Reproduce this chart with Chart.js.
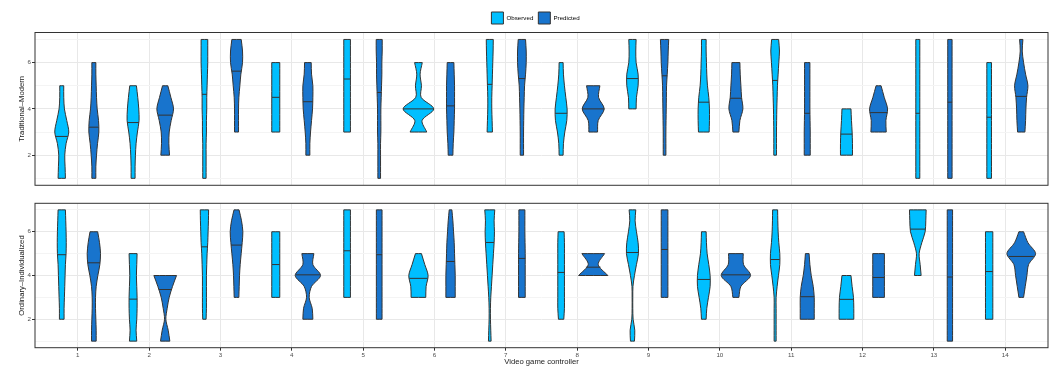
<!DOCTYPE html>
<html>
<head>
<meta charset="utf-8">
<script src="https://cdn.jsdelivr.net/npm/chart.js@4.4.1/dist/chart.umd.min.js"></script>
<style>
  body { margin: 0; background: #fff; }
  #wrap { position: relative; width: 1057px; height: 367px; }
  canvas { position: absolute; left: 0; }
  #topChart { top: 0; }
  #bottomChart { top: 192px; }
</style>
</head>
<body>
<div id="wrap">
  <canvas id="topChart" width="1057" height="190"></canvas>
  <canvas id="bottomChart" width="1057" height="175"></canvas>
</div>
<script>
// Video game controllers on the x axis, y levels where violin widths were read
const controllers = [1, 2, 3, 4, 5, 6, 7, 8, 9, 10, 11, 12, 13, 14];
const yLevels = [1, 1.5, 2, 2.5, 3, 3.5, 4, 4.5, 5, 5.5, 6, 6.5, 7];
const yTicks = [1, 2, 3, 4, 5, 6, 7];
const groups = ['Observed', 'Predicted'];

// Traditional–Modern: relative density at each y level (null = outside data range)
const tmObservedDensity = [
  [22, 20, 18, 26, 42, 30, 16, 12, 12, null, null, null, null],
  [12, 12, 14, 18, 26, 36, 34, 28, 20, null, null, null, null],
  [10, 10, 10, 10, 12, 12, 14, 14, 16, 18, 20, 20, 20],
  [null, null, null, null, 24, 24, 24, 24, 24, 24, 24, null, null],
  [null, null, null, null, 20, 20, 20, 20, 20, 20, 20, 20, 20],
  [null, null, null, null, 50, 22, 92, 16, 18, 10, 23, null, null],
  [null, null, null, null, 16, 14, 12, 12, 14, 16, 18, 20, 21],
  [null, null, 12, 14, 22, 34, 36, 28, 20, 14, 12, null, null],
  [null, null, null, null, null, null, 22, 24, 34, 34, 22, 20, 22],
  [null, null, null, null, 32, 34, 34, 30, 22, 18, 16, 14, 14],
  [null, null, 8, 8, 8, 9, 10, 12, 14, 18, 22, 26, 21],
  [null, null, 36, 36, 34, 30, 27, null, null, null, null, null, null],
  [12, 12, 12, 12, 12, 12, 12, 12, 12, 12, 12, 12, 12],
  [14, 14, 14, 14, 14, 14, 14, 14, 14, 14, 14, null, null]
];
const tmObservedMedian = [2.81, 3.41, 4.63, 4.5, 5.29, 4.0, 5.06, 3.81, 5.31, 4.29, 5.23, 2.91, 3.81, 3.64];

const tmPredictedDensity = [
  [12, 12, 16, 22, 30, 28, 20, 16, 14, 12, 12, null, null],
  [null, null, 26, 22, 24, 36, 50, 34, 16, null, null, null, null],
  [null, null, null, null, 12, 12, 12, 14, 20, 26, 36, 36, 28],
  [null, null, 12, 12, 16, 22, 28, 30, 30, 22, 20, null, null],
  [8, 8, 8, 8, 10, 10, 10, 12, 14, 16, 16, 18, 18],
  [null, null, 14, 16, 20, 22, 24, 24, 24, 22, 20, null, null],
  [null, null, 10, 10, 10, 11, 12, 14, 16, 22, 26, 26, 22],
  [null, null, null, null, 26, 30, 66, 32, 40, null, null, null, null],
  [null, null, 8, 8, 8, 9, 10, 11, 12, 16, 20, 22, 25],
  [null, null, null, null, 18, 24, 42, 34, 30, 26, 24, null, null],
  [null, null, 18, 18, 18, 17, 16, 16, 16, 16, 16, null, null],
  [null, null, null, null, 46, 44, 54, 34, 15, null, null, null, null],
  [13, 13, 13, 13, 13, 13, 13, 13, 13, 13, 13, 13, 13],
  [null, null, null, null, 22, 26, 28, 32, 40, 26, 14, 6, 10]
];
const tmPredictedMedian = [3.21, 3.73, 5.63, 4.31, 4.71, 4.13, 5.31, 4.0, 5.43, 4.46, 3.81, 3.84, 4.29, 4.54];

// Ordinary–Individualized
const oiObservedDensity = [
  [null, null, 14, 14, 16, 18, 20, 22, 26, 27, 26, 24, 22],
  [22, 18, 22, 24, 24, 22, 20, 22, 24, null, null, null, null],
  [null, null, 10, 12, 12, 12, 12, 14, 16, 20, 22, 24, 25],
  [null, null, null, null, 24, 24, 24, 24, 24, 24, 24, null, null],
  [null, null, null, null, 20, 20, 20, 20, 20, 20, 20, 20, 20],
  [null, null, null, null, 44, 46, 58, 38, 18, null, null, null, null],
  [8, 6, 4, 4, 6, 10, 14, 18, 22, 26, 28, 26, 30],
  [null, null, 16, 20, 20, 20, 20, 20, 20, 20, 18, null, null],
  [12, 14, 4, 2, 2, 3, 12, 24, 36, 34, 24, 16, 20],
  [null, null, 14, 18, 28, 38, 38, 30, 20, 16, 14, null, null],
  [6, 6, 6, 6, 6, 12, 20, 28, 28, 22, 18, 16, 15],
  [null, null, 44, 44, 42, 34, 27, null, null, null, null, null, null],
  [null, null, null, null, null, null, 20, 14, 8, 24, 44, 48, 50],
  [null, null, 22, 22, 22, 22, 22, 22, 22, 22, 22, null, null]
];
const oiObservedMedian = [4.95, 2.92, 5.31, 4.5, 5.13, 3.87, 5.51, 4.14, 5.05, 3.82, 4.73, 2.91, 6.12, 4.18];

const oiPredictedDensity = [
  [14, 14, 12, 10, 10, 14, 24, 36, 40, 34, 23, null, null],
  [28, 18, 4, 12, 24, 44, 68, null, null, null, null, null, null],
  [null, null, null, null, 14, 16, 18, 22, 28, 34, 38, 30, 15],
  [null, null, 30, 26, 8, 22, 76, 30, 36, null, null, null, null],
  [null, null, 17, 17, 17, 17, 17, 17, 17, 17, 17, 17, 17],
  [null, null, null, null, 28, 28, 28, 26, 24, 22, 18, 14, 8],
  [null, null, null, null, 20, 20, 20, 20, 20, 19, 18, 18, 18],
  [null, null, null, null, null, null, 88, 30, 68, null, null, null, null],
  [null, null, null, null, 20, 20, 20, 20, 20, 20, 20, 20, 20],
  [null, null, null, null, 18, 30, 88, 46, 44, null, null, null, null],
  [null, null, 42, 42, 42, 36, 24, 16, 11, null, null, null, null],
  [null, null, null, null, 35, 35, 35, 35, 35, null, null, null, null],
  [16, 16, 16, 16, 16, 16, 16, 16, 16, 16, 16, 16, 16],
  [null, null, null, null, 14, 24, 34, 44, 86, 40, 14, null, null]
];
const oiPredictedMedian = [4.58, 3.36, 5.39, 4.03, 4.95, 4.64, 4.78, 4.38, 5.19, 4.03, 3.03, 3.91, 3.93, 4.87];

// styling
const groupColors = { Observed: '#00BFFF', Predicted: '#1874CD' };
const outline = '#333333';
const dodge = 0.225;          // offset of each group from the controller position
const widthScale = 1 / 428;   // density -> half width in x units
Chart.defaults.font.family = '"Liberation Sans", Arial, sans-serif';

// build the outline of one violin, corners doubled so the flat ends stay sharp
function violinPoints(xc, density) {
  const right = [], left = [];
  yLevels.forEach((y, i) => {
    const d = density[i];
    if (d === null) return;
    right.push({ x: xc + d * widthScale, y: y });
    left.push({ x: xc - d * widthScale, y: y });
  });
  const n = right.length;
  const pts = [left[0], left[0], right[0]];
  right.forEach(p => pts.push(p));
  pts.push(right[n - 1], left[n - 1]);
  for (let i = n - 1; i >= 0; i--) pts.push(left[i]);
  return pts;
}

function densityAt(density, y) {
  for (let i = 0; i < yLevels.length - 1; i++) {
    if (y >= yLevels[i] && y <= yLevels[i + 1]) {
      const a = density[i], b = density[i + 1];
      if (a === null) return b;
      if (b === null) return a;
      const t = (y - yLevels[i]) / (yLevels[i + 1] - yLevels[i]);
      return a + (b - a) * t;
    }
  }
  return 0;
}

function buildDatasets(panel) {
  const sets = [];
  groups.forEach((g, gi) => {
    const off = gi === 0 ? -dodge : dodge;
    controllers.forEach((c, ci) => {
      const xc = c + off;
      const dens = panel[g].density[ci];
      sets.push({
        label: g,
        data: violinPoints(xc, dens),
        showLine: true,
        fill: 'shape',
        backgroundColor: groupColors[g],
        borderColor: outline,
        borderWidth: 1,
        pointRadius: 0,
        tension: 0.3,
        order: 1
      });
      const m = panel[g].median[ci];
      const w = densityAt(dens, m) * widthScale;
      sets.push({
        label: g + ' median',
        data: [{ x: xc - w, y: m }, { x: xc + w, y: m }],
        showLine: true,
        fill: false,
        borderColor: outline,
        borderWidth: 1,
        pointRadius: 0,
        order: 0
      });
    });
  });
  return sets;
}

// panel border like theme_bw
const panelBorder = {
  id: 'panelBorder',
  afterDraw(chart) {
    const { ctx, chartArea: a } = chart;
    ctx.save();
    ctx.strokeStyle = outline;
    ctx.lineWidth = 1;
    ctx.strokeRect(a.left, a.top, a.right - a.left, a.bottom - a.top);
    ctx.restore();
  }
};

// fixed legend height so the top panel starts where it should, nudged a little left
const legendHeight = {
  id: 'legendHeight',
  beforeInit(chart) {
    if (!chart.legend) return;
    const fit = chart.legend.fit;
    chart.legend.fit = function () { fit.call(this); this.height = 25.5; };
  },
  afterLayout(chart) {
    if (!chart.legend) return;
    chart.legend.left -= 6;
    chart.legend.right -= 6;
  }
};

function yScale(title) {
  return {
    min: 0.7,
    max: 7.3,
    afterBuildTicks: s => { s.ticks = yTicks.map(v => ({ value: v })); },
    afterFit: s => { s.width = 35; },
    ticks: {
      callback: v => (v % 2 === 0 ? v : ''),
      font: { size: 6.2 },
      color: '#4d4d4d',
      padding: 1
    },
    grid: {
      color: ctx => (ctx.tick && ctx.tick.value % 2 ? '#f4f4f4' : '#e8e8e8'),
      tickColor: ctx => (ctx.tick && ctx.tick.value % 2 ? 'rgba(0,0,0,0)' : outline),
      tickLength: 3
    },
    border: { display: false },
    title: {
      display: true,
      text: title,
      font: { size: 7.7 },
      color: '#1a1a1a',
      padding: { top: 17, bottom: 0 }
    }
  };
}

function xScale(showAxis) {
  return {
    type: 'linear',
    min: 0.4,
    max: 14.6,
    afterBuildTicks: s => { s.ticks = controllers.map(v => ({ value: v })); },
    afterFit: s => { s.height = showAxis ? 19.3 : 0; },
    ticks: {
      display: showAxis,
      font: { size: 6.2 },
      color: '#4d4d4d',
      padding: 1,
      maxRotation: 0,
      autoSkip: false
    },
    grid: {
      color: '#e8e8e8',
      drawTicks: showAxis,
      tickColor: outline,
      tickLength: 3
    },
    border: { display: false },
    title: {
      display: showAxis,
      text: 'Video game controller',
      font: { size: 7.7 },
      color: '#1a1a1a',
      padding: { top: 0, bottom: 0 }
    }
  };
}

// Top panel with the legend
new Chart(document.getElementById('topChart').getContext('2d'), {
  type: 'scatter',
  data: {
    datasets: buildDatasets({
      Observed: { density: tmObservedDensity, median: tmObservedMedian },
      Predicted: { density: tmPredictedDensity, median: tmPredictedMedian }
    })
  },
  options: {
    responsive: false,
    animation: false,
    events: [],
    layout: { autoPadding: false, padding: { top: 7, left: 0, right: 9, bottom: 4 } },
    scales: { x: xScale(false), y: yScale('Traditional–Modern') },
    plugins: {
      tooltip: { enabled: false },
      legend: {
        position: 'top',
        fullSize: false,
        labels: {
          boxWidth: 12,
          boxHeight: 12,
          padding: 5,
          color: '#1a1a1a',
          font: { size: 6.2 },
          generateLabels: () => groups.map(g => ({
            text: g,
            fillStyle: groupColors[g],
            strokeStyle: outline,
            lineWidth: 1,
            hidden: false
          }))
        }
      }
    }
  },
  plugins: [panelBorder, legendHeight]
});

// Bottom panel with the x axis
new Chart(document.getElementById('bottomChart').getContext('2d'), {
  type: 'scatter',
  data: {
    datasets: buildDatasets({
      Observed: { density: oiObservedDensity, median: oiObservedMedian },
      Predicted: { density: oiPredictedDensity, median: oiPredictedMedian }
    })
  },
  options: {
    responsive: false,
    animation: false,
    events: [],
    layout: { autoPadding: false, padding: { top: 11.3, left: 0, right: 9, bottom: 0 } },
    scales: { x: xScale(true), y: yScale('Ordinary–Individualized') },
    plugins: {
      tooltip: { enabled: false },
      legend: { display: false }
    }
  },
  plugins: [panelBorder]
});
</script>
</body>
</html>
